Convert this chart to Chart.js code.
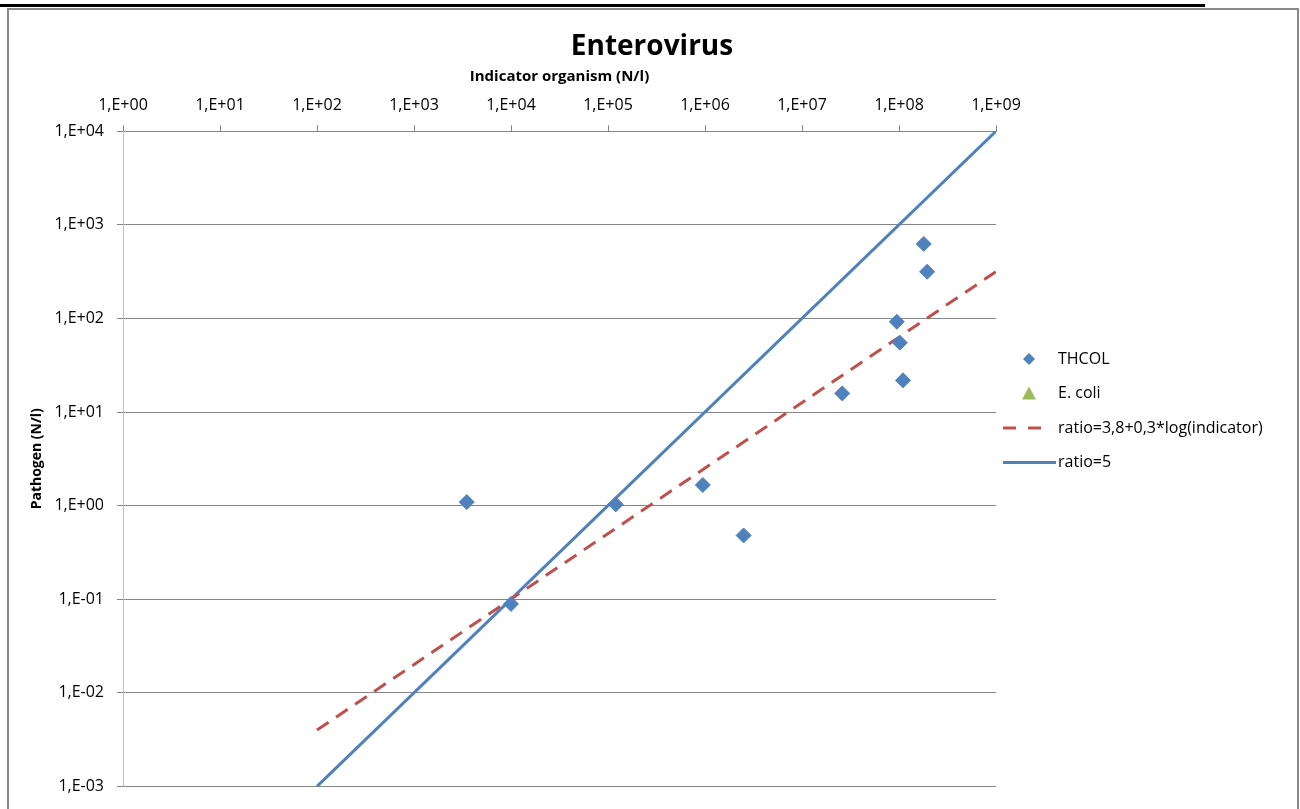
<!DOCTYPE html>
<html>
<head>
<meta charset="utf-8">
<script src="https://cdn.jsdelivr.net/npm/chart.js@4/dist/chart.umd.min.js"></script>
<style>
  body { margin: 0; background: #fff; }
  #bar { position: absolute; left: 0; top: 4px; width: 1205px; height: 3px; background: #000; }
  #frame { position: absolute; left: 7px; top: 8px; width: 1288px; height: 810px; border: 2px solid #898989; }
  #wrap { position: absolute; left: 9px; top: 10px; width: 1286px; height: 799px; }
</style>
</head>
<body>
<div id="bar"></div>
<div id="frame"></div>
<div id="wrap"><canvas id="chart"></canvas></div>
<script>
const xTicks = [1e0, 1e1, 1e2, 1e3, 1e4, 1e5, 1e6, 1e7, 1e8, 1e9];
const yTicks = [1e-3, 1e-2, 1e-1, 1e0, 1e1, 1e2, 1e3, 1e4];

// THCOL measurements
const thcolX = [3.5e3, 1.0e4, 1.2e5, 9.5e5, 2.5e6, 2.6e7, 9.5e7, 1.02e8, 1.1e8, 1.8e8, 1.95e8];
const thcolY = [1.09, 0.089, 1.03, 1.66, 0.48, 15.8, 92, 55, 21.8, 625, 315];

// E. coli has no points in this chart
const ecoliX = [];
const ecoliY = [];

// reference lines (end points)
const fitX = [1e2, 1e9];
const fitY = [0.004, 316];
const ratio5X = [1e2, 1e9];
const ratio5Y = [1e-3, 1e4];

const blue = '#4F81BD';
const red = '#C0504D';
const green = '#9BBB59';
const gridColor = '#868686';

const pts = (xs, ys) => xs.map((x, i) => ({ x: x, y: ys[i] }));
const expLabel = v => {
    const e = Math.round(Math.log10(v));
    return '1,E' + (e < 0 ? '-' : '+') + String(Math.abs(e)).padStart(2, '0');
};

const legendItems = [
    { label: 'THCOL', kind: 'diamond', color: blue },
    { label: 'E. coli', kind: 'triangle', color: green },
    { label: 'ratio=3,8+0,3*log(indicator)', kind: 'dash', color: red },
    { label: 'ratio=5', kind: 'line', color: blue }
];

const sideLegend = {
    id: 'sideLegend',
    afterDraw(chart) {
        const c = chart.ctx;
        const mx = 1020, tx = 1049;
        c.save();
        c.font = '16px "Open Sans"';
        c.textBaseline = 'middle';
        legendItems.forEach((it, i) => {
            const y = 349 + i * 34.5;
            c.fillStyle = it.color;
            c.strokeStyle = it.color;
            if (it.kind === 'diamond') {
                c.beginPath();
                c.moveTo(mx, y - 6); c.lineTo(mx + 6, y); c.lineTo(mx, y + 6); c.lineTo(mx - 6, y);
                c.closePath(); c.fill();
            } else if (it.kind === 'triangle') {
                c.beginPath();
                c.moveTo(mx, y - 7); c.lineTo(mx + 7, y + 6); c.lineTo(mx - 7, y + 6);
                c.closePath(); c.fill();
            } else {
                c.lineWidth = 3;
                c.setLineDash(it.kind === 'dash' ? [13, 12] : []);
                c.beginPath();
                c.moveTo(994, y);
                c.lineTo(it.kind === 'dash' ? 1034 : 1047, y);
                c.stroke();
                c.setLineDash([]);
            }
            c.fillStyle = '#000';
            c.fillText(it.label, tx, y);
        });
        c.restore();
    }
};

const ctx = document.getElementById('chart');

new Chart(ctx, {
    type: 'scatter',
    data: {
        datasets: [{
            label: 'THCOL',
            data: pts(thcolX, thcolY),
            pointStyle: 'rectRot',
            pointRadius: 7.5,
            pointHoverRadius: 7.5,
            backgroundColor: blue,
            borderColor: blue,
            borderWidth: 1,
            order: 0
        }, {
            label: 'E. coli',
            data: pts(ecoliX, ecoliY),
            pointStyle: 'triangle',
            pointRadius: 7,
            backgroundColor: green,
            borderColor: green,
            order: 1
        }, {
            label: 'ratio=3,8+0,3*log(indicator)',
            type: 'line',
            data: pts(fitX, fitY),
            borderColor: red,
            borderWidth: 3,
            borderDash: [14, 9],
            pointRadius: 0,
            fill: false,
            order: 2
        }, {
            label: 'ratio=5',
            type: 'line',
            data: pts(ratio5X, ratio5Y),
            borderColor: blue,
            borderWidth: 3,
            pointRadius: 0,
            fill: false,
            order: 3
        }]
    },
    options: {
        responsive: true,
        maintainAspectRatio: false,
        animation: false,
        layout: {
            padding: { left: 0, top: 0, right: 0, bottom: 22 }
        },
        scales: {
            x: {
                type: 'logarithmic',
                position: 'top',
                min: 1,
                max: 1e9,
                afterBuildTicks: s => { s.ticks = xTicks.map(v => ({ value: v })); },
                afterFit: s => { s.height = 67.6; },
                ticks: {
                    color: '#000',
                    padding: 10,
                    maxRotation: 0,
                    font: { family: 'Open Sans', size: 16 },
                    callback: v => expLabel(v)
                },
                grid: {
                    drawOnChartArea: false,
                    tickLength: 6,
                    color: gridColor
                },
                border: { color: gridColor },
                title: {
                    display: true,
                    text: 'Indicator organism (N/l)',
                    color: '#000',
                    padding: { top: 4, bottom: 0 },
                    font: { family: 'Open Sans', size: 15, weight: 'bold' }
                }
            },
            y: {
                type: 'logarithmic',
                min: 1e-3,
                max: 1e4,
                afterBuildTicks: s => { s.ticks = yTicks.map(v => ({ value: v })); },
                afterFit: s => { s.width = 114; },
                ticks: {
                    color: '#000',
                    padding: 13,
                    font: { family: 'Open Sans', size: 16 },
                    callback: v => expLabel(v)
                },
                grid: {
                    tickLength: 6,
                    color: gridColor
                },
                border: { color: '#BFBFBF' },
                title: {
                    display: true,
                    text: 'Pathogen (N/l)',
                    color: '#000',
                    padding: { top: 20, bottom: 0 },
                    font: { family: 'Open Sans', size: 14, weight: 'bold' }
                }
            },
            // empty right-hand strip that holds the legend
            side: {
                type: 'linear',
                position: 'right',
                afterFit: s => { s.width = 299; },
                ticks: { display: false },
                grid: { display: false },
                border: { display: false }
            }
        },
        plugins: {
            legend: { display: false },
            tooltip: { enabled: false },
            title: {
                display: true,
                text: 'Enterovirus',
                color: '#000',
                padding: { top: 20, bottom: 0 },
                font: { family: 'Open Sans', size: 28, weight: 'bold' }
            }
        }
    },
    plugins: [sideLegend]
});
</script>
</body>
</html>
